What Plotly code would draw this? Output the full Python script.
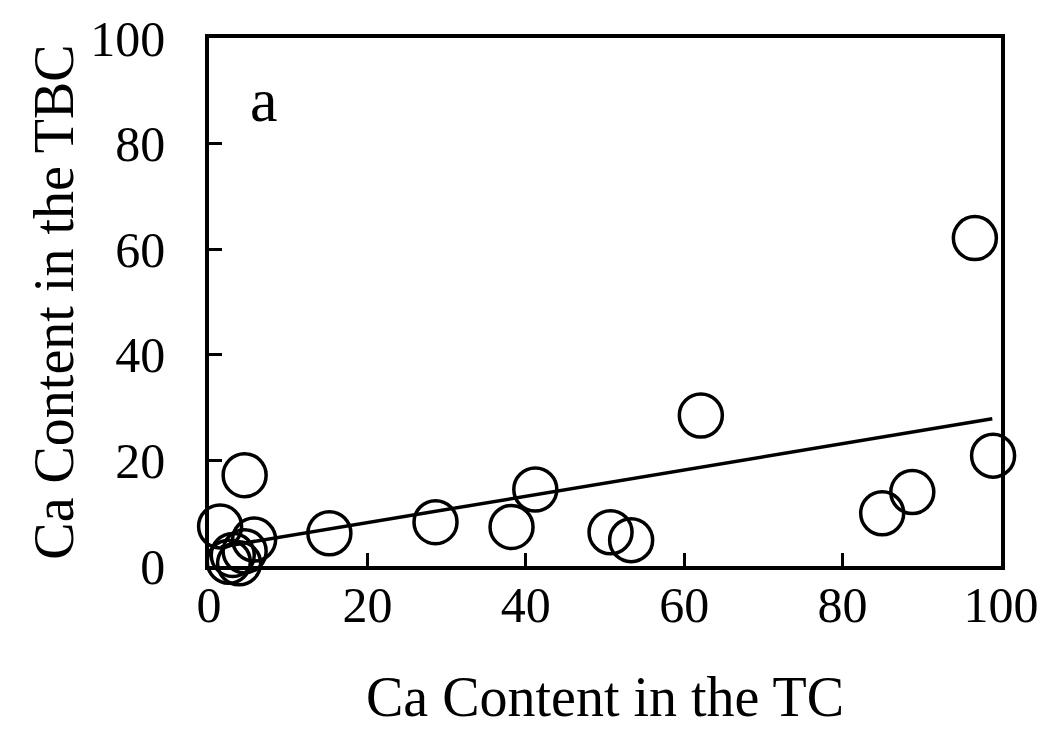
import plotly.graph_objects as go

# Scatter data (Ca content in TC vs TBC)
tc_values = [96.7, 99.0, 62.1, 41.2, 28.6, 38.2, 50.7, 53.3, 15.2, 85.0, 88.8,
             4.5, 1.4, 5.7, 3.0, 3.8, 4.5, 2.5]
tbc_values = [62.1, 20.9, 28.5, 14.5, 8.3, 7.4, 6.4, 4.9, 6.2, 10.0, 14.0,
              17.2, 7.5, 5.0, 2.1, 0.5, 2.8, 0.8]

# Trend line endpoints
trend_x = [1.5, 98.9]
trend_y = [3.6, 27.9]

tick_vals = [0, 20, 40, 60, 80, 100]
tick_text = ["0", "20", "40", "60", "80", "100"]

FONT = "Liberation Serif, Times New Roman, serif"

fig = go.Figure()
fig.add_trace(go.Scatter(
    x=trend_x, y=trend_y, mode="lines",
    line=dict(color="black", width=3.5), showlegend=False, hoverinfo="skip"))
fig.add_trace(go.Scatter(
    x=tc_values, y=tbc_values, mode="markers",
    marker=dict(symbol="circle-open", size=43, color="black",
                line=dict(color="black", width=3.5)),
    cliponaxis=False, showlegend=False))

axis_common = dict(
    range=[0, 100], tickvals=tick_vals, ticktext=tick_text,
    showgrid=False, zeroline=False, automargin=False,
    ticklabeloverflow="allow",
    showline=True, linecolor="black", linewidth=3.5, mirror=True,
    ticks="inside", ticklen=13, tickwidth=2.5, tickcolor="black",
    tickfont=dict(family=FONT, size=50, color="black"),
)

fig.update_xaxes(**axis_common,
                 title=dict(text="Ca Content in the TC",
                            font=dict(family=FONT, size=56, color="black"),
                            standoff=46),
                 ticklabelstandoff=-8)
fig.update_yaxes(**axis_common,
                 title=dict(text="Ca Content in the TBC",
                            font=dict(family=FONT, size=56, color="black"),
                            standoff=0),
                 ticklabelstandoff=30)

fig.add_annotation(x=6.9, y=88.3, xref="x", yref="y", text="a", showarrow=False,
                   font=dict(family=FONT, size=62, color="black"))

fig.update_layout(
    width=1051, height=739,
    margin=dict(l=201, r=58, t=30, b=181, autoexpand=False),
    paper_bgcolor="white", plot_bgcolor="white",
)

fig.write_html("out.html")
